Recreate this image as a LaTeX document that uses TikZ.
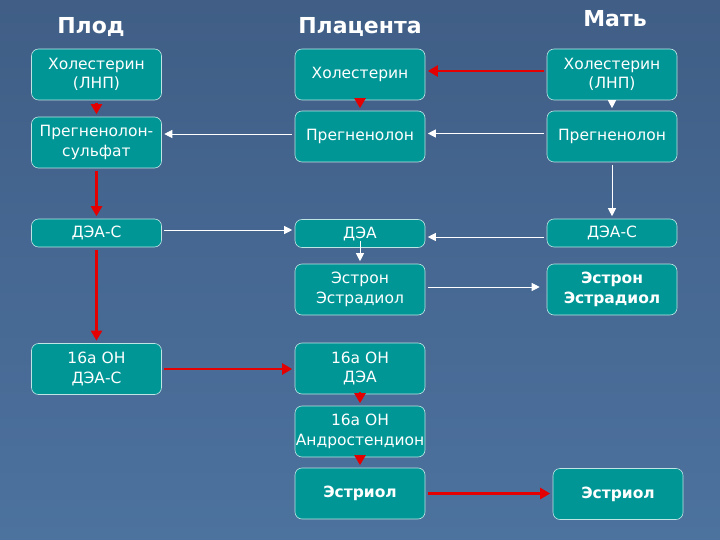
\documentclass[tikz,border=0pt]{standalone}
\usepackage{fontspec}
\setmainfont{DejaVu Sans}
\usetikzlibrary{arrows.meta}
\pgfdeclarelayer{bg}
\pgfsetlayers{bg,main}
\definecolor{slidetop}{RGB}{64,94,134}
\definecolor{slidebot}{RGB}{76,114,158}
\definecolor{boxfill}{RGB}{0,150,150}
\definecolor{boxline}{RGB}{190,228,228}
\definecolor{path}{RGB}{228,0,0}
\tikzset{
        box/.style={draw=boxline, fill=boxfill, line width=0.6pt, rounded corners=7pt,
                minimum width=130pt, minimum height=51pt, inner sep=0pt, align=center,
                text=white, font=\fontsize{15.5}{19.5}\selectfont},
        flat/.style={box, minimum height=28pt},
        bold/.style={font=\bfseries\fontsize{15.5}{19.5}\selectfont},
        head/.style={text=white, anchor=base, font=\bfseries\fontsize{22}{26}\selectfont},
        wline/.style={draw=white, line width=0.8pt, shorten >=2.5pt, shorten <=2.5pt,
                -{Triangle[length=8pt,width=8pt]}},
        rline/.style={draw=path, line width=2.2pt, shorten >=2.5pt, shorten <=2.5pt,
                -{Triangle[length=10pt,width=11pt]}}
}

\begin{document}
\begin{tikzpicture}[x=1pt,y=-1pt]
        \begin{pgfonlayer}{bg}
                \fill[top color=slidetop, bottom color=slidebot] (0,0) rectangle (720,540);
        \end{pgfonlayer}
        \node (hf) [head] at (91,34) {Плод};
        \node (hp) [head] at (360,34) {Плацента};
        \node (hm) [head] at (615,27) {Мать};
        % fetus
        \node (f1) [box] at (96.5,74.5) {Холестерин\\(ЛНП)};
        \node (f2) [box] at (96.5,142.5) {Прегненолон-\\сульфат};
        \node (f3) [flat] at (96.5,233) {ДЭА-С};
        \node (f4) [box] at (96.5,369) {16а ОН\\ДЭА-С};
        % placenta
        \node (p1) [box] at (360,74.5) {Холестерин};
        \node (p2) [box] at (360,136.5) {Прегненолон};
        \node (p3) [flat] at (360,233.5) {ДЭА};
        \node (p4) [box] at (360,289.5) {Эстрон\\Эстрадиол};
        \node (p5) [box] at (360,368.5) {16а ОН\\ДЭА};
        \node (p6) [box] at (360,431.5) {16а ОН\\Андростендион};
        \node (p7) [box, bold] at (360,493.5) {Эстриол};
        % mother
        \node (m1) [box] at (612,74.5) {Холестерин\\(ЛНП)};
        \node (m2) [box] at (612,136.5) {Прегненолон};
        \node (m3) [flat] at (612,233) {ДЭА-С};
        \node (m4) [box, bold] at (612,289.5) {Эстрон\\Эстрадиол};
        \node (m5) [box, bold] at (618,494) {Эстриол};
        % red path
        \draw[rline] (f1) -- (f2);
        \draw[rline] (f2) -- (f3);
        \draw[rline] (f3) -- (f4);
        \draw[rline] (f4.east) -- (f4.east -| p5.west);
        \draw[rline] ([yshift=3.5pt]m1.west) -- ([yshift=3.5pt]m1.west -| p1.east);
        \draw[rline] (p1) -- (p2);
        \draw[rline] (p5) -- (p6);
        \draw[rline] (p6) -- (p7);
        \draw[rline] (p7.east) -- (p7.east -| m5.west);
        % white path
        \draw[wline] ([yshift=2.5pt]p2.west) -- ([yshift=2.5pt]p2.west -| f2.east);
        \draw[wline] ([yshift=3pt]m2.west) -- ([yshift=3pt]m2.west -| p2.east);
        \draw[wline] (m1) -- (m2);
        \draw[wline] (m2) -- (m3);
        \draw[wline] ([yshift=3pt]f3.east) -- ([yshift=3pt]f3.east -| p3.west);
        \draw[wline] ([yshift=-4pt]m3.west) -- ([yshift=-4pt]m3.west -| p3.east);
        \draw[wline, shorten <=0pt] ([yshift=-7pt]p3.center) -- (p4.north);
        \draw[wline, shorten >=7pt] ([yshift=2.5pt]p4.east) -- ([yshift=2.5pt]p4.east -| m4.west);
\end{tikzpicture}
\end{document}
